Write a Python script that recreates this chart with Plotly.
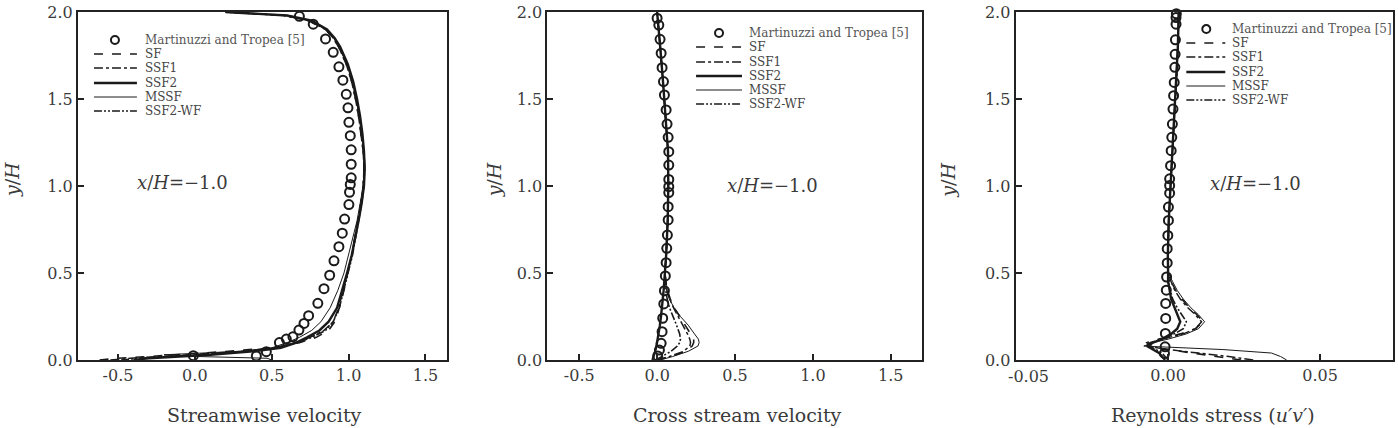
import plotly.graph_objects as go

# ---------------- data ----------------
y_ticks = [0.0, 0.5, 1.0, 1.5, 2.0]
y_ticktext = ["0.0", "0.5", "1.0", "1.5", "2.0"]
vel_ticks = [-0.5, 0.0, 0.5, 1.0, 1.5]
vel_ticktext = ["-0.5", "0.0", "0.5", "1.0", "1.5"]
rs_ticks = [-0.05, 0.0, 0.05]
rs_ticktext = ["-0.05", "0.00", "0.05"]

series_names = ["SF", "SSF1", "SSF2", "MSSF", "SSF2-WF"]
exp_name = "Martinuzzi and Tropea [5]"

# Panel 1: streamwise velocity
u_y = [0.0, 0.01, 0.02, 0.03, 0.05, 0.07, 0.1, 0.13, 0.17, 0.22, 0.3, 0.4, 0.5, 0.6, 0.7, 0.8,
       0.9, 1.0, 1.1, 1.2, 1.3, 1.4, 1.5, 1.6, 1.7, 1.8, 1.85, 1.9, 1.95, 1.98, 2.0]
u_SF = [-0.62, -0.5, -0.3, -0.1, 0.22, 0.5, 0.68, 0.79, 0.87, 0.91, 0.94, 0.97, 0.995, 1.02, 1.04, 1.06,
        1.08, 1.095, 1.10, 1.095, 1.08, 1.065, 1.045, 1.02, 0.985, 0.935, 0.9, 0.85, 0.74, 0.58, 0.2]
u_SSF1 = [-0.55, -0.42, -0.22, -0.02, 0.3, 0.52, 0.66, 0.75, 0.84, 0.9, 0.935, 0.965, 0.995, 1.02, 1.04, 1.06,
          1.08, 1.095, 1.10, 1.095, 1.08, 1.065, 1.045, 1.02, 0.985, 0.935, 0.9, 0.85, 0.74, 0.58, 0.2]
u_SSF2 = [-0.4, -0.3, -0.1, 0.1, 0.38, 0.56, 0.66, 0.73, 0.81, 0.87, 0.925, 0.96, 0.99, 1.02, 1.045, 1.065,
          1.085, 1.10, 1.105, 1.10, 1.09, 1.075, 1.055, 1.03, 0.995, 0.945, 0.91, 0.86, 0.76, 0.6, 0.2]
u_MSSF = [0.5, 0.47, 0.02, -0.2, 0.3, 0.5, 0.6, 0.68, 0.76, 0.82, 0.88, 0.93, 0.97, 1.0, 1.03, 1.055,
          1.075, 1.095, 1.10, 1.10, 1.085, 1.07, 1.05, 1.025, 0.99, 0.94, 0.905, 0.855, 0.75, 0.6, 0.2]
u_SSF2WF = [-0.48, -0.36, -0.16, 0.04, 0.33, 0.54, 0.67, 0.76, 0.85, 0.9, 0.94, 0.97, 1.0, 1.025, 1.045, 1.065,
            1.085, 1.10, 1.105, 1.10, 1.085, 1.07, 1.05, 1.025, 0.99, 0.94, 0.905, 0.855, 0.75, 0.6, 0.2]
u_exp_y = [1.975, 1.93, 1.845, 1.768, 1.685, 1.608, 1.527, 1.449, 1.366, 1.289, 1.208, 1.125, 1.047, 1.009,
           0.964, 0.893, 0.81, 0.729, 0.651, 0.57, 0.487, 0.41, 0.326, 0.255, 0.21, 0.172, 0.133, 0.12,
           0.10, 0.048, 0.023, 0.025]
u_exp_x = [0.68, 0.77, 0.85, 0.90, 0.937, 0.963, 0.985, 0.996, 1.002, 1.011, 1.017, 1.017, 1.017, 1.011,
           1.006, 1.002, 0.974, 0.959, 0.937, 0.905, 0.877, 0.84, 0.80, 0.74, 0.71, 0.677, 0.638, 0.595,
           0.55, 0.465, 0.40, -0.01]

# Panel 2: cross stream velocity
v_y = [0.0, 0.02, 0.05, 0.08, 0.1, 0.12, 0.15, 0.2, 0.25, 0.3, 0.35, 0.4, 0.5, 0.6, 0.8, 1.0,
       1.2, 1.4, 1.6, 1.8, 1.9, 2.0]
v_SF = [0.0, 0.09, 0.18, 0.225, 0.235, 0.235, 0.215, 0.18, 0.145, 0.11, 0.085, 0.066, 0.05, 0.058, 0.068, 0.072,
        0.07, 0.055, 0.038, 0.02, 0.01, 0.0]
v_SSF1 = [0.0, 0.08, 0.17, 0.21, 0.215, 0.21, 0.195, 0.165, 0.135, 0.105, 0.082, 0.064, 0.05, 0.058, 0.068, 0.072,
          0.07, 0.055, 0.038, 0.02, 0.01, 0.0]
v_SSF2 = [-0.03, -0.022, -0.012, -0.004, 0.0, 0.004, 0.01, 0.018, 0.025, 0.031, 0.037, 0.042, 0.05, 0.058, 0.068, 0.072,
          0.07, 0.055, 0.038, 0.02, 0.01, 0.0]
v_MSSF = [0.02, 0.1, 0.2, 0.262, 0.27, 0.265, 0.24, 0.2, 0.15, 0.11, 0.078, 0.06, 0.05, 0.058, 0.068, 0.072,
          0.07, 0.055, 0.038, 0.02, 0.01, 0.0]
v_SSF2WF = [-0.01, 0.03, 0.09, 0.13, 0.145, 0.15, 0.145, 0.125, 0.1, 0.08, 0.065, 0.055, 0.05, 0.058, 0.068, 0.072,
            0.07, 0.055, 0.038, 0.02, 0.01, 0.0]
v_exp_y = [1.964, 1.925, 1.843, 1.763, 1.68, 1.6, 1.523, 1.437, 1.356, 1.28, 1.197, 1.12, 1.038, 0.996,
           0.962, 0.881, 0.805, 0.718, 0.642, 0.559, 0.483, 0.398, 0.322, 0.24, 0.163, 0.096, 0.057, 0.023]
v_exp_x = [0.0, 0.011, 0.019, 0.026, 0.032, 0.041, 0.047, 0.058, 0.064, 0.071, 0.075, 0.075, 0.075, 0.075,
           0.075, 0.071, 0.071, 0.066, 0.062, 0.058, 0.053, 0.047, 0.043, 0.036, 0.032, 0.026, 0.015, 0.004]

# Panel 3: Reynolds stress u'v'
r_y = [0.0, 0.02, 0.04, 0.06, 0.08, 0.1, 0.12, 0.15, 0.18, 0.22, 0.26, 0.3, 0.35, 0.4, 0.45, 0.5,
       0.6, 0.8, 1.0, 1.2, 1.4, 1.6, 1.8, 2.0]
r_SF = [0.024, 0.016, 0.007, 0.0, -0.006, -0.007, -0.003, 0.004, 0.009, 0.0115, 0.0095, 0.007, 0.0045, 0.0025, 0.001, 0.0,
        -0.0001, 0.0002, 0.0008, 0.0015, 0.002, 0.0027, 0.0032, 0.0035]
r_SSF1 = [0.028, 0.02, 0.01, 0.0, -0.007, -0.006, -0.002, 0.005, 0.009, 0.011, 0.009, 0.0065, 0.004, 0.0022, 0.001, 0.0,
          -0.0001, 0.0002, 0.0008, 0.0015, 0.002, 0.0027, 0.0032, 0.0035]
r_SSF2 = [-0.001, -0.002, -0.003, -0.005, -0.007, -0.005, -0.002, 0.001, 0.003, 0.004, 0.003, 0.002, 0.001, 0.0005, 0.0, 0.0,
          -0.0001, 0.0002, 0.0008, 0.0015, 0.002, 0.0027, 0.0032, 0.0035]
r_MSSF = [0.039, 0.037, 0.034, 0.018, -0.008, -0.005, 0.0, 0.006, 0.01, 0.012, 0.01, 0.0075, 0.005, 0.003, 0.0015, 0.0,
          -0.0001, 0.0002, 0.0008, 0.0015, 0.002, 0.0027, 0.0032, 0.0035]
r_SSF2WF = [0.0, -0.001, -0.002, -0.004, -0.006, -0.005, -0.002, 0.002, 0.005, 0.006, 0.0045, 0.003, 0.0015, 0.0007, 0.0, 0.0,
            -0.0001, 0.0002, 0.0008, 0.0015, 0.002, 0.0027, 0.0032, 0.0035]
r_exp_y = [1.99, 1.968, 1.93, 1.84, 1.757, 1.682, 1.595, 1.519, 1.442, 1.356, 1.28, 1.203, 1.117, 1.041, 1.003,
           0.959, 0.879, 0.802, 0.716, 0.64, 0.558, 0.477, 0.401, 0.325, 0.239, 0.153, 0.076, 0.038]
r_exp_x = [0.0027, 0.0026, 0.0026, 0.0024, 0.0023, 0.0022, 0.002, 0.0018, 0.0016, 0.0014, 0.0012, 0.001, 0.0008, 0.0005, 0.0005,
           0.0005, 0.0001, 0.0001, -0.0001, -0.0003, -0.0003, -0.0005, -0.0006, -0.0008, -0.0008, -0.0009, -0.001, -0.0012]

x_titles = ["Streamwise velocity", "Cross stream velocity", "Reynolds stress (<i>u′v′</i>)"]
station_label = "<i>x</i>/<i>H</i>=−1.0"
y_title = "<i>y</i>/<i>H</i>"

# ---------------- layout geometry (pixels) ----------------
W, H = 1398, 428
ML, MR, MT, MB = 78, 3, 12, 68
PW = W - ML - MR
PH = H - MT - MB


def px(x):
    return (x - ML) / PW


def py(y):
    return (H - MB - y) / PH


INK = "#1a1a1a"
SERIF = "DejaVu Serif"
TICK_COLOR = "#3a3a3a"

line_styles = {
    "SF": dict(dash="dash", width=1.6),
    "SSF1": dict(dash="dashdot", width=1.5),
    "SSF2": dict(dash="solid", width=2.4),
    "MSSF": dict(dash="solid", width=1.0),
    "SSF2-WF": dict(dash="8px,2px,2px,2px,2px,2px", width=1.6),
}

panels = [
    dict(xa="x", ya="y", y=u_y, series=[u_SF, u_SSF1, u_SSF2, u_MSSF, u_SSF2WF], ex=u_exp_x, ey=u_exp_y),
    dict(xa="x2", ya="y2", y=v_y, series=[v_SF, v_SSF1, v_SSF2, v_MSSF, v_SSF2WF], ex=v_exp_x, ey=v_exp_y),
    dict(xa="x3", ya="y3", y=r_y, series=[r_SF, r_SSF1, r_SSF2, r_MSSF, r_SSF2WF], ex=r_exp_x, ey=r_exp_y),
]

fig = go.Figure()
for p in panels:
    fig.add_trace(go.Scatter(x=p["ex"], y=p["ey"], mode="markers", name=exp_name, showlegend=False,
                             xaxis=p["xa"], yaxis=p["ya"], cliponaxis=False,
                             marker=dict(symbol="circle-open", size=9, color=INK, line=dict(width=2, color=INK))))
    for name, xs in zip(series_names, p["series"]):
        st = line_styles[name]
        fig.add_trace(go.Scatter(x=xs, y=p["y"], mode="lines", name=name, showlegend=False,
                                 xaxis=p["xa"], yaxis=p["ya"],
                                 line=dict(color=INK, width=st["width"], dash=st["dash"])))

axis_common = dict(showline=True, linewidth=2, linecolor="#222", mirror=True, ticks="inside",
                   ticklen=6, tickwidth=1.5, tickcolor="#222", showgrid=False, zeroline=False,
                   tickfont=dict(family=SERIF, size=16, color=TICK_COLOR))

# the left-most Reynolds-stress label sits at the frame edge; it is written slightly
# inward (as in the reference) by an annotation, the axis keeps its tick mark
rs_axis_text = ["" if t == rs_ticktext[0] else t for t in rs_ticktext]

x_domains = [[px(78), px(448)], [px(548), px(923)], [px(1017), px(1395)]]
x_ranges = [[-0.76, 1.643], [-0.705, 1.699], [-0.0502, 0.074]]
x_tv = [vel_ticks, vel_ticks, rs_ticks]
x_tt = [vel_ticktext, vel_ticktext, rs_axis_text]

layout = dict(width=W, height=H, margin=dict(l=ML, r=MR, t=MT, b=MB),
              paper_bgcolor="white", plot_bgcolor="white", showlegend=False)
for i in range(3):
    sx = "" if i == 0 else str(i + 1)
    layout["xaxis" + sx] = dict(domain=x_domains[i], range=x_ranges[i], tickvals=x_tv[i], ticktext=x_tt[i],
                                anchor="y" + sx, **axis_common)
    layout["yaxis" + sx] = dict(domain=[0, 1], range=[0, 2], tickvals=y_ticks, ticktext=y_ticktext,
                                anchor="x" + sx, **axis_common)
fig.update_layout(**layout)

# ---------------- annotations: titles, station labels ----------------
annotations = []
x_title_cx = [265, 739, 1215]
y_title_cx = [12, 495, 949]
station_c = [(183, 182), (774, 185), (1257, 183)]
for i in range(3):
    annotations.append(dict(text=x_titles[i], x=px(x_title_cx[i]), y=py(415), xref="paper", yref="paper",
                            xanchor="center", yanchor="middle", showarrow=False,
                            font=dict(family=SERIF, size=19, color=TICK_COLOR)))
    annotations.append(dict(text=y_title, x=px(y_title_cx[i]), y=py(180), xref="paper", yref="paper",
                            xanchor="center", yanchor="middle", showarrow=False, textangle=-90,
                            font=dict(family=SERIF, size=19, color=TICK_COLOR)))
    annotations.append(dict(text=station_label, x=px(station_c[i][0]), y=py(station_c[i][1]), xref="paper",
                            yref="paper", xanchor="center", yanchor="middle", showarrow=False,
                            font=dict(family=SERIF, size=18, color=TICK_COLOR)))

annotations.append(dict(text=rs_ticktext[0], x=px(1030), y=py(376), xref="paper", yref="paper",
                        xanchor="center", yanchor="middle", showarrow=False,
                        font=dict(family=SERIF, size=16, color=TICK_COLOR)))

# ---------------- hand-made compact legends ----------------
legend_geo = [
    dict(cx=115, lx0=94, lx1=137, tx=143, rows=[40, 54, 68, 83, 97, 111]),
    dict(cx=720, lx0=697, lx1=743, tx=748, rows=[33, 47, 62, 76, 90, 104]),
    dict(cx=1208, lx0=1188, lx1=1227, tx=1232, rows=[29, 43, 57, 72, 86, 100]),
]
shapes = []
for g in legend_geo:
    r0 = g["rows"][0]
    shapes.append(dict(type="circle", xref="paper", yref="paper",
                       x0=px(g["cx"] - 4), x1=px(g["cx"] + 4), y0=py(r0 + 4), y1=py(r0 - 4),
                       line=dict(color=INK, width=2)))
    annotations.append(dict(text=exp_name, x=px(g["tx"]), y=py(r0), xref="paper", yref="paper",
                            xanchor="left", yanchor="middle", showarrow=False,
                            font=dict(family=SERIF, size=12, color="#555")))
    for name, ry in zip(series_names, g["rows"][1:]):
        st = line_styles[name]
        shapes.append(dict(type="line", xref="paper", yref="paper",
                           x0=px(g["lx0"]), x1=px(g["lx1"]), y0=py(ry), y1=py(ry),
                           line=dict(color=INK, width=st["width"], dash=st["dash"])))
        annotations.append(dict(text=name, x=px(g["tx"]), y=py(ry), xref="paper", yref="paper",
                                xanchor="left", yanchor="middle", showarrow=False,
                                font=dict(family=SERIF, size=12, color="#444")))

fig.update_layout(annotations=annotations, shapes=shapes)
fig.write_html("out.html")
